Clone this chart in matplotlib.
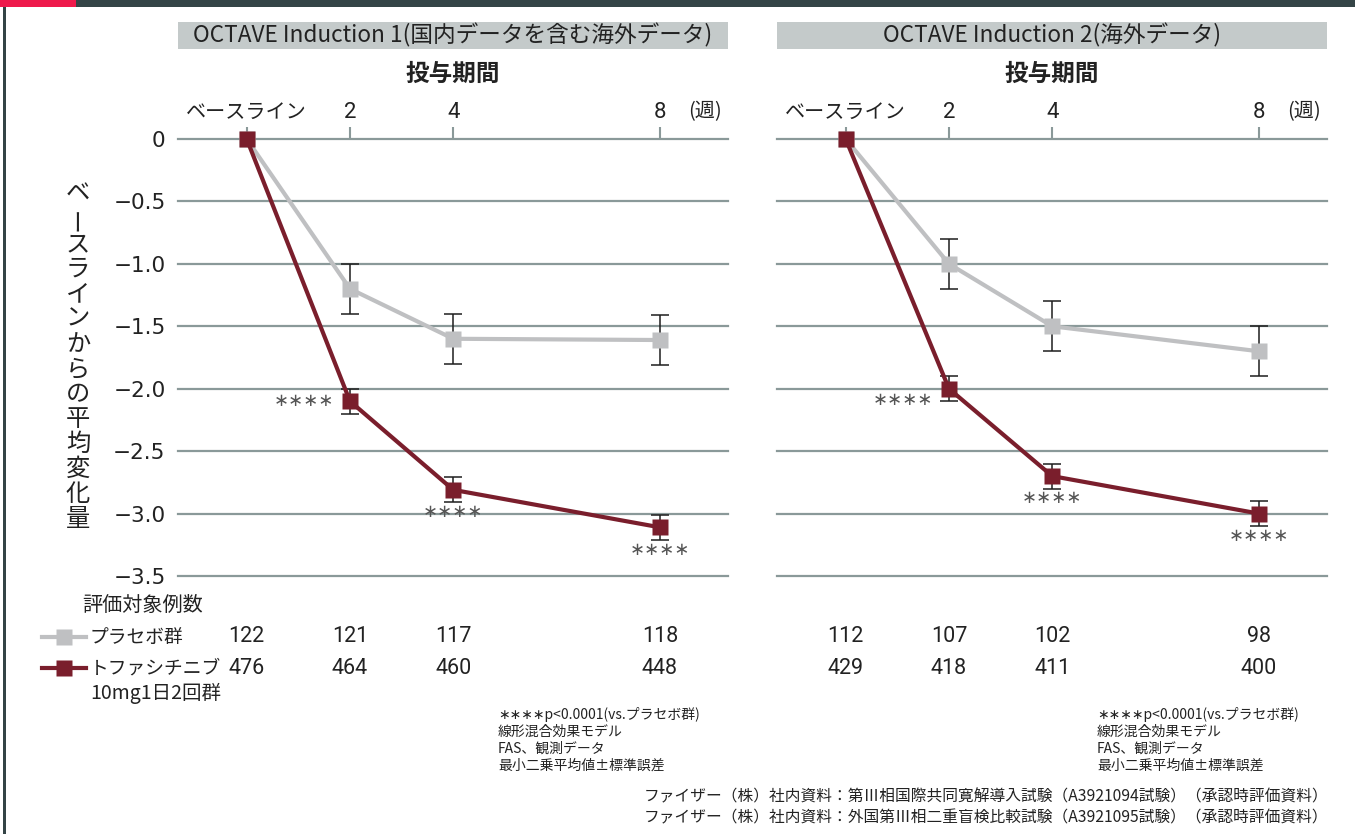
import matplotlib
matplotlib.use("Agg")
import matplotlib.pyplot as plt
import matplotlib.transforms as mtransforms
from matplotlib.lines import Line2D
from matplotlib.patches import Rectangle

plt.rcParams['font.family'] = ['Noto Sans CJK JP', 'DejaVu Sans']

# ---------------------------------------------------------------- data
weeks = [0, 2, 4, 8]
week_labels = ['ベースライン', '2', '4', '8']
yticks = [0, -0.5, -1.0, -1.5, -2.0, -2.5, -3.0, -3.5]

study_titles = ['OCTAVE Induction 1(国内データを含む海外データ)',
                'OCTAVE Induction 2(海外データ)']

placebo_mean_1 = [0, -1.2, -1.6, -1.61]
placebo_se_1 = [0, 0.2, 0.2, 0.2]
tofa_mean_1 = [0, -2.1, -2.81, -3.11]
tofa_se_1 = [0, 0.1, 0.1, 0.1]
placebo_n_1 = [122, 121, 117, 118]
tofa_n_1 = [476, 464, 460, 448]

placebo_mean_2 = [0, -1.0, -1.5, -1.7]
placebo_se_2 = [0, 0.2, 0.2, 0.2]
tofa_mean_2 = [0, -2.0, -2.7, -3.0]
tofa_se_2 = [0, 0.1, 0.1, 0.1]
placebo_n_2 = [112, 107, 102, 98]
tofa_n_2 = [429, 418, 411, 400]

placebo_label = 'プラセボ群'
tofa_label = ['トファシチニブ', '10mg1日2回群']
n_header = '評価対象例数'
ylabel = 'ベースラインからの平均変化量'
xlabel = '投与期間'
unit_label = '(週)'
sig_mark = '∗∗∗∗'
notes = ['∗∗∗∗p<0.0001(vs.プラセボ群)', '線形混合効果モデル',
         'FAS、観測データ', '最小二乗平均値±標準誤差']
sources = ['ファイザー（株）社内資料：第Ⅲ相国際共同寛解導入試験（A3921094試験）（承認時評価資料）',
           'ファイザー（株）社内資料：外国第Ⅲ相二重盲検比較試験（A3921095試験）（承認時評価資料）']

# ---------------------------------------------------------------- style
W, H = 1355, 834
C_PLA = '#BFC0C2'
C_TOFA = '#7A1E2C'
C_GRID = '#8A9999'
C_TXT = '#222222'
C_BAND = '#C4CACA'
C_DARK = '#344446'
C_RED = '#EE1A4B'
NUM_FONT = ['Roboto', 'Noto Sans CJK JP', 'DejaVu Sans']


def fx(px):
    return px / W


def fy(py):
    return 1 - py / H


fig = plt.figure(figsize=(W / 100, H / 100), dpi=100)
fig.patch.set_facecolor('white')

# frame: top bar with red accent, thin rule on the left
fig.patches.append(Rectangle((0, fy(7)), 1, 7 / H, transform=fig.transFigure,
                             facecolor=C_DARK, edgecolor='none'))
fig.patches.append(Rectangle((0, fy(7)), fx(76), 7 / H, transform=fig.transFigure,
                             facecolor=C_RED, edgecolor='none'))
fig.patches.append(Rectangle((fx(3), 0), fx(2.5), fy(7), transform=fig.transFigure,
                             facecolor=C_DARK, edgecolor='none'))

panels = [
    dict(left=178, title=study_titles[0],
         pm=placebo_mean_1, ps=placebo_se_1, tm=tofa_mean_1, ts=tofa_se_1,
         pn=placebo_n_1, tn=tofa_n_1, w2_dy=0, show_y=True),
    dict(left=777, title=study_titles[1],
         pm=placebo_mean_2, ps=placebo_se_2, tm=tofa_mean_2, ts=tofa_se_2,
         pn=placebo_n_2, tn=tofa_n_2, w2_dy=-8, show_y=False),
]

AX_W, TOP, BOT = 550, 139, 576

for p in panels:
    ax = fig.add_axes([fx(p['left']), fy(BOT), fx(AX_W), (BOT - TOP) / H])
    ax.set_xlim(-1.33, 9.32)
    ax.set_ylim(-3.5, 0)
    for s in ax.spines.values():
        s.set_visible(False)
    ax.patch.set_alpha(0)

    for yv in yticks:
        ax.axhline(yv, color=C_GRID, lw=1.6, zorder=1, clip_on=False)

    ax.xaxis.tick_top()
    ax.set_xticks(weeks, week_labels)
    ax.tick_params(axis='x', length=8.5, width=1.5, color=C_GRID, pad=3,
                   labelsize=14.5, labelcolor=C_TXT)
    for lab in ax.get_xticklabels()[1:]:
        lab.set_family(NUM_FONT)
        lab.set_fontsize(16)
    ax.set_yticks(yticks)
    if p['show_y']:
        ax.set_yticklabels(['0' if v == 0 else f'{v:.1f}'.replace('-', '−') for v in yticks],
                           family=['DejaVu Sans'])
    else:
        ax.set_yticklabels([])
    ax.tick_params(axis='y', length=0, pad=9, labelsize=15.5, labelcolor=C_TXT)

    # error bars, then lines with square markers
    ax.errorbar(weeks[1:], p['pm'][1:], yerr=p['ps'][1:], fmt='none',
                ecolor='#1E1E1E', elinewidth=1.1, capsize=6.5, capthick=1.1, zorder=2)
    ax.errorbar(weeks[1:], p['tm'][1:], yerr=p['ts'][1:], fmt='none',
                ecolor='#1E1E1E', elinewidth=1.1, capsize=6.5, capthick=1.1, zorder=2)
    ax.plot(weeks, p['pm'], color=C_PLA, lw=3, marker='s', ms=11,
            mec='none', zorder=3, clip_on=False)
    ax.plot(weeks, p['tm'], color=C_TOFA, lw=3, marker='s', ms=11,
            mec='none', zorder=4, clip_on=False)

    # significance marks
    ax.annotate(sig_mark, (weeks[1], p['tm'][1]), xytext=(-11, p['w2_dy']),
                textcoords='offset points', ha='right', va='center',
                fontsize=13, color='#555555', family=['DejaVu Sans'])
    for i in (2, 3):
        ax.annotate(sig_mark, (weeks[i], p['tm'][i]), xytext=(0, -16),
                    textcoords='offset points', ha='center', va='center',
                    fontsize=13, color='#555555', family=['DejaVu Sans'])

    # study title band and x-axis title
    cx = p['left'] + AX_W / 2
    fig.patches.append(Rectangle((fx(p['left']), fy(49)), fx(AX_W), 27 / H,
                                 transform=fig.transFigure, facecolor=C_BAND,
                                 edgecolor='none'))
    fig.text(fx(cx), fy(35.5), p['title'], ha='center', va='center',
             fontsize=16.3, color=C_TXT)
    fig.text(fx(cx), fy(74), xlabel, ha='center', va='center',
             fontsize=17, color=C_TXT, fontweight='bold')
    fig.text(fx(p['left'] + 527), fy(112), unit_label, ha='center', va='center',
             fontsize=14.5, color=C_TXT)

    # number-of-patients table aligned with the week positions
    tr = mtransforms.blended_transform_factory(ax.transData, fig.transFigure)
    for w, n1, n2 in zip(weeks, p['pn'], p['tn']):
        ax.text(w, fy(637), str(n1), transform=tr, ha='center', va='center',
                fontsize=15.5, color=C_TXT, family=NUM_FONT)
        ax.text(w, fy(668), str(n2), transform=tr, ha='center', va='center',
                fontsize=15.5, color=C_TXT, family=NUM_FONT)

    # method footnotes
    for k, line in enumerate(notes):
        fig.text(fx(p['left'] + 320), fy(715 + 17 * k), line, ha='left',
                 va='center', fontsize=10, color=C_TXT)

# y-axis title written vertically, one character per row
for i, ch in enumerate(ylabel):
    rot = 90 if ch == 'ー' else 0
    fig.text(fx(78), fy(194 + 25 * i), ch, ha='center', va='center',
             fontsize=17.5, color=C_TXT, rotation=rot)

# table header and legend keys
fig.text(fx(82), fy(605), n_header, ha='left', va='center', fontsize=14.5, color=C_TXT)
for yy, col, lab in [(637, C_PLA, placebo_label), (668, C_TOFA, tofa_label[0])]:
    fig.add_artist(Line2D([fx(42), fx(86)], [fy(yy), fy(yy)], color=col, lw=3,
                          transform=fig.transFigure))
    fig.add_artist(Line2D([fx(64)], [fy(yy)], color=col, marker='s', ms=11,
                          mec='none', transform=fig.transFigure))
    fig.text(fx(90), fy(yy), lab, ha='left', va='center', fontsize=13.5, color=C_TXT)
fig.text(fx(90), fy(693), tofa_label[1], ha='left', va='center', fontsize=14, color=C_TXT)

# data sources
for k, line in enumerate(sources):
    fig.text(fx(1328), fy(797 + 21 * k), line, ha='right', va='center',
             fontsize=11.3, color=C_TXT)

fig.savefig('out.png', dpi=100, facecolor='white')
